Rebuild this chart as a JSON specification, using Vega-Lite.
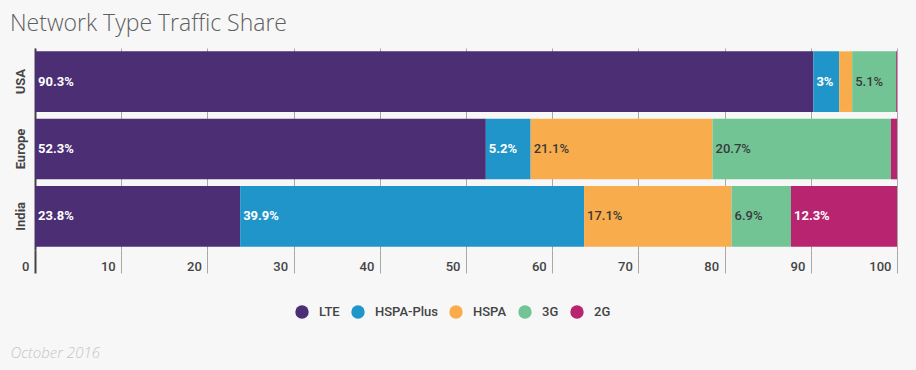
{
  "$schema": "https://vega.github.io/schema/vega-lite/v6.json",
  "width": 862,
  "height": 202,
  "autosize": {"type": "none"},
  "padding": {"left": 35, "top": 48, "right": 19, "bottom": 120},
  "background": "#f7f7f7",
  "title": {
    "text": "Network Type Traffic Share",
    "anchor": "start",
    "frame": "group",
    "dx": -25,
    "dy": 23,
    "offset": 17,
    "baseline": "alphabetic",
    "font": "Open Sans",
    "fontSize": 23,
    "fontWeight": 300,
    "color": "#5f5f5f"
  },
  "config": {"view": {"stroke": null}},
  "data": {
    "values": [
      {"country": "USA", "type": "LTE", "value": 90.3, "label": "90.3%"},
      {"country": "USA", "type": "HSPA-Plus", "value": 3.0, "label": "3%"},
      {"country": "USA", "type": "HSPA", "value": 1.5, "label": ""},
      {"country": "USA", "type": "3G", "value": 5.1, "label": "5.1%"},
      {"country": "USA", "type": "2G", "value": 0.1, "label": ""},
      {"country": "Europe", "type": "LTE", "value": 52.3, "label": "52.3%"},
      {"country": "Europe", "type": "HSPA-Plus", "value": 5.2, "label": "5.2%"},
      {"country": "Europe", "type": "HSPA", "value": 21.1, "label": "21.1%"},
      {"country": "Europe", "type": "3G", "value": 20.7, "label": "20.7%"},
      {"country": "Europe", "type": "2G", "value": 0.7, "label": ""},
      {"country": "India", "type": "LTE", "value": 23.8, "label": "23.8%"},
      {"country": "India", "type": "HSPA-Plus", "value": 39.9, "label": "39.9%"},
      {"country": "India", "type": "HSPA", "value": 17.1, "label": "17.1%"},
      {"country": "India", "type": "3G", "value": 6.9, "label": "6.9%"},
      {"country": "India", "type": "2G", "value": 12.3, "label": "12.3%"}
    ]
  },
  "transform": [
    {"stack": "value", "groupby": ["country"], "sort": [{"field": "type", "order": "descending"}], "as": ["x0", "x1"]}
  ],
  "encoding": {
    "y": {
      "field": "country",
      "type": "nominal",
      "sort": ["USA", "Europe", "India"],
      "scale": {"paddingInner": 0.1, "paddingOuter": 0.05},
      "axis": {
        "title": null,
        "domainColor": "#444",
        "domainWidth": 2,
        "ticks": false,
        "grid": false,
        "labelAngle": 270,
        "labelAlign": "center",
        "labelBaseline": "bottom",
        "labelPadding": 8,
        "labelFont": "Roboto",
        "labelFontSize": 13,
        "labelFontWeight": "bold",
        "labelColor": "#444"
      }
    },
    "x": {
      "field": "x0",
      "type": "quantitative",
      "scale": {"domain": [0, 100], "nice": false},
      "axis": {
        "title": "October 2016",
        "titleAnchor": "start",
        "titleAlign": "left",
        "titleX": -25,
        "titleY": 107,
        "titleBaseline": "alphabetic",
        "titleFont": "Open Sans",
        "titleFontStyle": "italic",
        "titleFontWeight": 300,
        "titleFontSize": 15,
        "titleColor": "#c6c6c6",
        "values": [0, 10, 20, 30, 40, 50, 60, 70, 80, 90, 100],
        "domain": false,
        "grid": true,
        "gridColor": "#a8a8a8",
        "gridWidth": 1,
        "tickSize": 23,
        "tickColor": {"condition": {"test": "datum.value === 0", "value": "#444"}, "value": "#a8a8a8"},
        "tickWidth": {"condition": {"test": "datum.value === 0", "value": 2}, "value": 1},
        "labelAlign": "right",
        "labelOffset": -6,
        "labelBaseline": "alphabetic",
        "labelPadding": -3,
        "labelFont": "Roboto",
        "labelFontSize": 13,
        "labelFontWeight": 500,
        "labelColor": "#444",
        "labelFlush": false,
        "labelOverlap": false
      }
    }
  },
  "layer": [
    {
      "mark": {"type": "bar"},
      "encoding": {
        "x2": {"field": "x1"},
        "color": {
          "field": "type",
          "type": "nominal",
          "scale": {
            "domain": ["LTE", "HSPA-Plus", "HSPA", "3G", "2G"],
            "range": ["#4b2e73", "#1f95c9", "#f8ac4b", "#72c495", "#b8246f"]
          },
          "legend": {
            "orient": "none",
            "legendX": 260,
            "legendY": 257,
            "direction": "horizontal",
            "title": null,
            "symbolType": "circle",
            "symbolSize": 180,
            "symbolStrokeWidth": 0,
            "labelFont": "Roboto",
            "labelFontSize": 13,
            "labelFontWeight": 500,
            "labelColor": "#444",
            "columnPadding": 11,
            "labelOffset": 10
          }
        }
      }
    },
    {
      "transform": [{"filter": "datum.label != '' && (datum.type == 'LTE' || datum.type == 'HSPA-Plus' || datum.type == '2G')"}],
      "mark": {"type": "text", "align": "left", "baseline": "middle", "dx": 3, "font": "Roboto", "fontSize": 13, "fontWeight": "bold", "color": "white"},
      "encoding": {"text": {"field": "label"}}
    },
    {
      "transform": [{"filter": "datum.label != '' && (datum.type == 'HSPA' || datum.type == '3G')"}],
      "mark": {"type": "text", "align": "left", "baseline": "middle", "dx": 3, "font": "Roboto", "fontSize": 13, "fontWeight": 500, "color": "#3a3a3a"},
      "encoding": {"text": {"field": "label"}}
    }
  ]
}
